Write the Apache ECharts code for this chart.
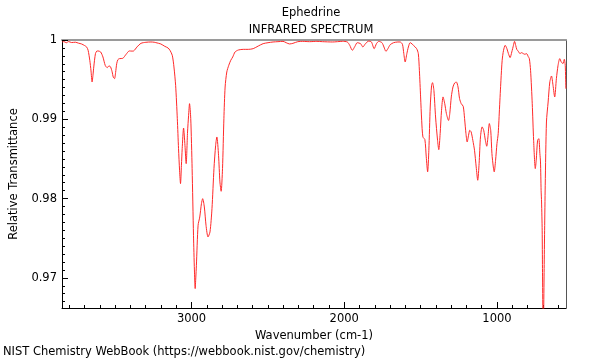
<!DOCTYPE html>
<html>
<head>
<meta charset="utf-8">
<script src="https://cdn.jsdelivr.net/npm/echarts@6/dist/echarts.min.js"></script>
<style>html,body{margin:0;padding:0;background:#fff;}#c{width:600px;height:360px;}</style>
</head>
<body>
<div id="c"></div>
<script>
// Data (wavenumber in cm-1, relative transmittance)
const wavenumbers = [3848,3835,3820,3805,3785,3760,3740,3720,3700,3686,3677,3666,3658,3651,3645,3640,3629,3620,3612,3595,3580,3565,3552,3540,3530,3520,3512,3504,3497,3490,3482,3472,3450,3428,3407,3390,3379,3357,3331,3299,3266,3245,3234,3201,3175,3154,3141,3126,3115,3104,3093,3085,3078,3072,3066,3061,3052,3043,3035,3026,3019,3013,3005,2996,2987,2981,2976,2972,2968,2957,2946,2935,2927,2916,2905,2892,2879,2866,2853,2842,2834,2823,2814,2806,2797,2788,2780,2769,2756,2743,2730,2715,2693,2661,2628,2596,2563,2531,2499,2466,2434,2401,2380,2358,2336,2304,2272,2228,2179,2142,2077,2012,1980,1964,1947,1930,1915,1893,1878,1861,1839,1822,1804,1789,1774,1753,1740,1727,1714,1699,1677,1649,1634,1619,1610,1601,1590,1580,1569,1564,1547,1526,1515,1508,1500,1493,1485,1472,1463,1454,1446,1437,1428,1422,1413,1402,1389,1381,1372,1363,1353,1342,1331,1317,1309,1299,1288,1277,1266,1255,1245,1234,1221,1212,1203,1195,1186,1178,1169,1158,1147,1136,1126,1117,1108,1097,1087,1076,1067,1059,1050,1041,1033,1024,1018,1009,1000,992,983,974,966,957,946,935,925,914,903,892,885,877,870,862,849,840,834,818,806,795,788,780,769,760,749,743,734,726,719,715,711,708,704,702,697,691,688,684,676,665,654,643,633,622,611,600,589,579,568,559,553,549];
const transmittance = [0.99975,0.9998,0.99965,0.9998,0.99968,0.99972,0.9996,0.9995,0.9993,0.9991,0.9987,0.99744,0.9961,0.99471,0.9956,0.9966,0.99828,0.9986,0.99862,0.99849,0.99786,0.9968,0.99651,0.99675,0.9966,0.996,0.9953,0.99513,0.9959,0.997,0.99752,0.99765,0.99769,0.9982,0.99862,0.9986,0.99862,0.99912,0.99958,0.99971,0.99975,0.99972,0.99967,0.9995,0.9992,0.999,0.9987,0.99807,0.9966,0.99428,0.99008,0.9863,0.9835,0.98189,0.9842,0.9863,0.9889,0.98672,0.98441,0.9884,0.9905,0.99197,0.99008,0.98378,0.97537,0.971,0.96865,0.97,0.97159,0.97663,0.97768,0.97936,0.97999,0.97894,0.97663,0.97516,0.97579,0.97873,0.98378,0.98672,0.98777,0.98546,0.9821,0.98092,0.98378,0.99008,0.99407,0.99597,0.99681,0.99744,0.99786,0.99849,0.99874,0.99882,0.99882,0.99891,0.99924,0.99954,0.99966,0.99975,0.99979,0.99983,0.99966,0.9995,0.99958,0.99979,0.99983,0.99979,0.99983,0.99979,0.99975,0.99983,0.99975,0.99933,0.9987,0.9992,0.99966,0.99954,0.99912,0.99954,0.99987,0.99975,0.99891,0.99954,0.99983,0.99966,0.99912,0.99857,0.99891,0.99941,0.99966,0.99975,0.99975,0.99946,0.99828,0.99723,0.99828,0.99912,0.99966,0.99963,0.99933,0.99891,0.99828,0.99618,0.99282,0.98988,0.98778,0.98744,0.98526,0.98337,0.98609,0.99155,0.99428,0.99462,0.99365,0.99029,0.98735,0.98617,0.98819,0.99113,0.99282,0.99197,0.99071,0.98985,0.99071,0.99282,0.99408,0.99458,0.9947,0.99408,0.99261,0.99197,0.99164,0.99008,0.98819,0.98714,0.98798,0.98861,0.9884,0.98735,0.98609,0.98399,0.98231,0.98441,0.98778,0.98904,0.98862,0.98736,0.9866,0.98778,0.98946,0.98862,0.98568,0.98399,0.98337,0.98484,0.98694,0.98819,0.99155,0.99492,0.99744,0.9987,0.99933,0.99891,0.99828,0.99778,0.99849,0.99933,0.99983,0.9993,0.9988,0.99862,0.99828,0.9984,0.99836,0.9982,0.99828,0.9979,0.99765,0.99618,0.99197,0.98735,0.98378,0.98483,0.98735,0.98756,0.98567,0.98462,0.98105,0.97957,0.97601,0.97117,0.962,0.97117,0.976,0.98168,0.98966,0.99218,0.9947,0.99546,0.99428,0.99281,0.99512,0.99681,0.99765,0.99723,0.99702,0.99756,0.99681,0.99386];

const xMajorTicks = [1000, 2000, 3000];
const xMinorTicks = [600,700,800,900,1100,1200,1300,1400,1500,1600,1700,1800,1900,2100,2200,2300,2400,2500,2600,2700,2800,2900,3100,3200,3300,3400,3500,3600,3700,3800];
const yMajorTicks = [0.97, 0.98, 0.99, 1];
const yMinorTicks = [0.967,0.968,0.969,0.971,0.972,0.973,0.974,0.975,0.976,0.977,0.978,0.979,0.981,0.982,0.983,0.984,0.985,0.986,0.987,0.988,0.989,0.991,0.992,0.993,0.994,0.995,0.996,0.997,0.998,0.999];

const X_MIN = 548, X_MAX = 3848, Y_MIN = 0.9662, Y_MAX = 1.0;
const FONT = 'DejaVu Sans';
const FS = 11.5;

const chart = echarts.init(document.getElementById('c'), null, {renderer: 'canvas'});
const seriesData = wavenumbers.map((w, i) => [w, transmittance[i]]);

const baseX = {type: 'value', inverse: true, min: X_MIN, max: X_MAX, splitLine: {show: false}, gridIndex: 0};
const baseY = {type: 'value', min: Y_MIN, max: Y_MAX, splitLine: {show: false}, gridIndex: 0};

chart.setOption({
  animation: false,
  backgroundColor: '#fff',
  textStyle: {fontFamily: FONT},
  title: [
    {text: 'Ephedrine', left: 311, top: 7, textAlign: 'center', padding: 0,
     textStyle: {fontFamily: FONT, fontSize: FS, fontWeight: 'normal', color: '#000'}},
    {text: 'INFRARED SPECTRUM', left: 311, top: 24, textAlign: 'center', padding: 0,
     textStyle: {fontFamily: FONT, fontSize: FS, fontWeight: 'normal', color: '#000'}}
  ],
  grid: {left: 57, right: 34, top: 40, bottom: 52, containLabel: false},
  xAxis: [
    Object.assign({}, baseX, {
      position: 'bottom',
      name: 'Wavenumber (cm-1)', nameLocation: 'middle', nameGap: 16,
      nameTextStyle: {fontFamily: FONT, fontSize: FS, color: '#000'},
      axisLine: {show: true, onZero: false, lineStyle: {color: '#000', width: 1}},
      axisTick: {show: true, inside: true, length: 6, customValues: xMajorTicks, lineStyle: {color: '#000'}},
      axisLabel: {show: true, customValues: xMajorTicks, margin: 5, fontFamily: FONT, fontSize: FS, color: '#000',
        formatter: v => String(Math.round(v))}
    }),
    Object.assign({}, baseX, {
      position: 'bottom',
      axisLine: {show: false, onZero: false},
      axisTick: {show: true, inside: true, length: 3, customValues: xMinorTicks, lineStyle: {color: '#000'}},
      axisLabel: {show: false}
    }),
    Object.assign({}, baseX, {
      position: 'top',
      axisLine: {show: true, onZero: false, lineStyle: {color: '#9a9a9a', width: 2}},
      axisTick: {show: false},
      axisLabel: {show: false}
    })
  ],
  yAxis: [
    Object.assign({}, baseY, {
      position: 'left',
      name: 'Relative Transmittance', nameLocation: 'middle', nameGap: 42, nameRotate: 90,
      nameTextStyle: {fontFamily: FONT, fontSize: FS, color: '#000'},
      axisLine: {show: true, onZero: false, lineStyle: {color: '#000', width: 1}},
      axisTick: {show: true, inside: true, length: 6, customValues: yMajorTicks, lineStyle: {color: '#000'}},
      axisLabel: {show: true, customValues: yMajorTicks, margin: 5, fontFamily: FONT, fontSize: FS, color: '#000',
        formatter: v => (Math.abs(v - 1) < 1e-9 ? '1' : v.toFixed(2))}
    }),
    Object.assign({}, baseY, {
      position: 'left',
      axisLine: {show: false, onZero: false},
      axisTick: {show: true, inside: true, length: 3, customValues: yMinorTicks, lineStyle: {color: '#000'}},
      axisLabel: {show: false}
    }),
    Object.assign({}, baseY, {
      position: 'right',
      axisLine: {show: true, onZero: false, lineStyle: {color: '#555', width: 1}},
      axisTick: {show: false},
      axisLabel: {show: false}
    })
  ],
  series: [{
    type: 'line',
    xAxisIndex: 0, yAxisIndex: 0,
    data: seriesData,
    showSymbol: false,
    smooth: 0.25,
    clip: true,
    lineStyle: {color: '#ff2a2a', width: 1}
  }],
  graphic: [{
    type: 'text', left: 3, top: 346,
    style: {text: 'NIST Chemistry WebBook (https://webbook.nist.gov/chemistry)', fontFamily: FONT, fontSize: FS, fill: '#000'}
  }]
});
</script>
</body>
</html>
